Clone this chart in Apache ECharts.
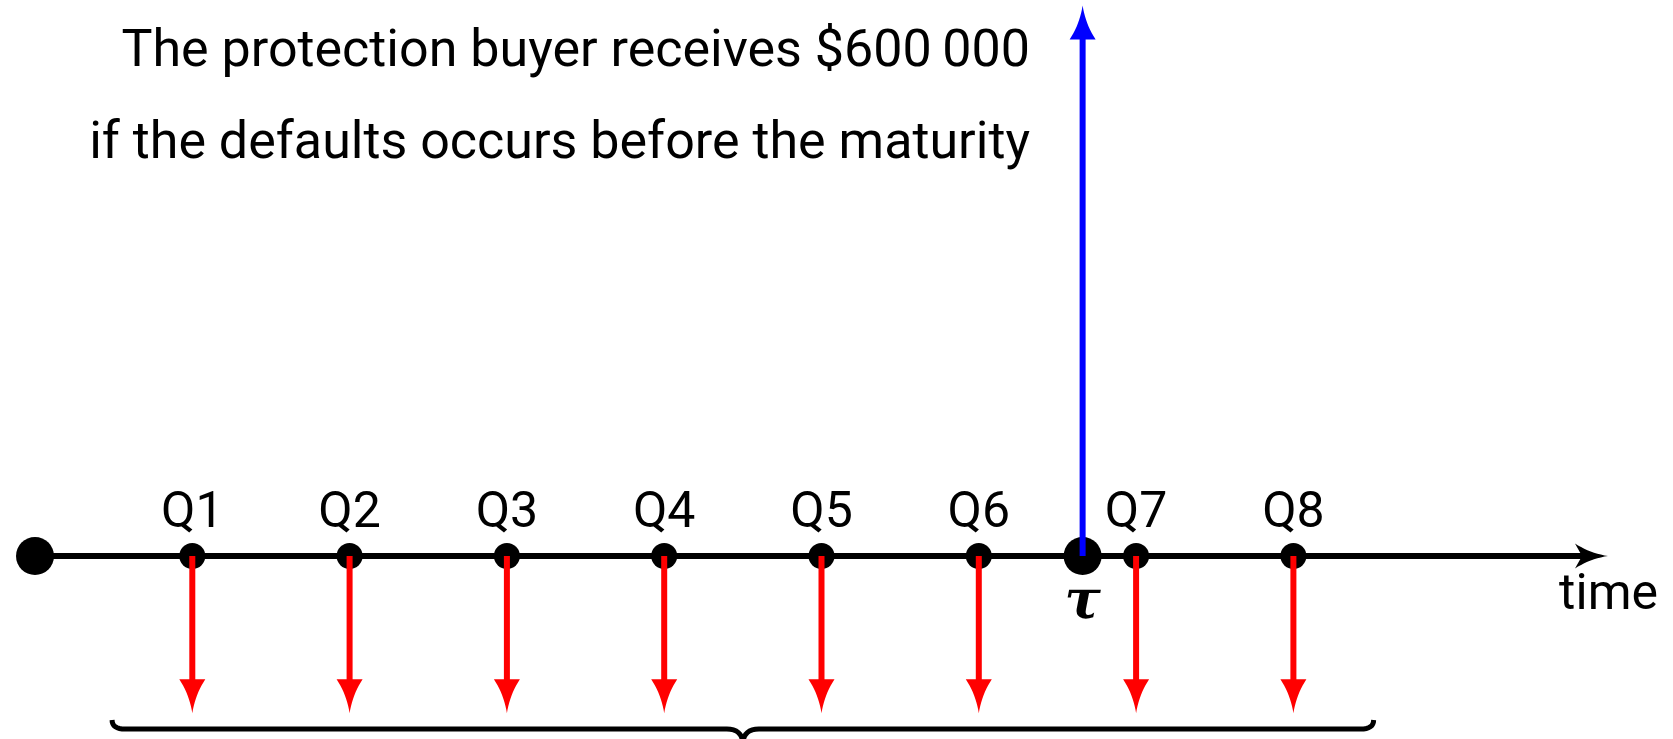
<!DOCTYPE html>
<html>
<head>
<meta charset="utf-8">
<script src="https://cdn.jsdelivr.net/npm/echarts@6/dist/echarts.min.js"></script>
<style>
  html, body { margin: 0; padding: 0; background: #fff; }
  #chart { width: 1673px; height: 739px; }
</style>
</head>
<body>
<div id="chart"></div>
<script>
// time axis: 0 = start, 1..8 = quarterly premium dates, tau = default time
const quarters = ['Q1', 'Q2', 'Q3', 'Q4', 'Q5', 'Q6', 'Q7', 'Q8'];
const payTimes = [1, 2, 3, 4, 5, 6, 7, 8];
const premiumFlows = [-1, -1, -1, -1, -1, -1, -1, -1];
const startTime = 0;
const defaultTime = 6.66;
const protectionFlow = 3.5;
const axisEnd = 10;
const braceSpan = [0.49, 8.51];
const braceLevel = -1.1;
const noteLines = [
  'The protection buyer receives $600\u2009000',
  'if the defaults occurs before the maturity'
];

const FONT = 'Roboto';

function quad(p0, c, p1, n) {
  const pts = [];
  for (let i = 0; i <= n; i++) {
    const t = i / n, u = 1 - t;
    pts.push([
      u * u * p0[0] + 2 * u * t * c[0] + t * t * p1[0],
      u * u * p0[1] + 2 * u * t * c[1] + t * t * p1[1]
    ]);
  }
  return pts;
}

// concave arrow head, tip at `tip`, pointing along unit vector `dir`
function arrowHead(tip, dir, len, half, notch) {
  const perp = [-dir[1], dir[0]];
  const base = [tip[0] - dir[0] * len, tip[1] - dir[1] * len];
  const cA = [base[0] + perp[0] * half, base[1] + perp[1] * half];
  const cB = [base[0] - perp[0] * half, base[1] - perp[1] * half];
  const k = 0.55, s = 0.22;
  const ctrlA = [tip[0] - dir[0] * len * k + perp[0] * half * s, tip[1] - dir[1] * len * k + perp[1] * half * s];
  const ctrlB = [tip[0] - dir[0] * len * k - perp[0] * half * s, tip[1] - dir[1] * len * k - perp[1] * half * s];
  let pts = quad(tip, ctrlA, cA, 10);
  if (notch) pts.push([base[0] + dir[0] * notch, base[1] + dir[1] * notch]);
  pts = pts.concat(quad(cB, ctrlB, tip, 10));
  return pts;
}

function arrow(p0, p1, color, width, len, half, notch) {
  const dx = p1[0] - p0[0], dy = p1[1] - p0[1];
  const d = Math.sqrt(dx * dx + dy * dy);
  const dir = [dx / d, dy / d];
  const end = [p1[0] - dir[0] * len * 0.6, p1[1] - dir[1] * len * 0.6];
  return {
    type: 'group',
    children: [
      { type: 'line', shape: { x1: p0[0], y1: p0[1], x2: end[0], y2: end[1] },
        style: { stroke: color, lineWidth: width } },
      { type: 'polygon', shape: { points: arrowHead(p1, dir, len, half, notch) },
        style: { fill: color } }
    ]
  };
}

const chart = echarts.init(document.getElementById('chart'));

const dotStyle = { color: '#000', opacity: 1 };

const option = {
  backgroundColor: '#fff',
  animation: false,
  grid: { left: 35, right: 65, top: 0, bottom: 0 },
  xAxis: { type: 'value', min: 0, max: 10, show: false },
  yAxis: { type: 'value', min: -1.1634, max: 3.5347, show: false },
  graphic: noteLines.map((s, i) => ({
    type: 'text',
    x: 1030,
    y: 53 + 92 * i,
    style: { text: s, align: 'right', verticalAlign: 'middle', fontSize: 52, fontFamily: FONT, fill: '#000' }
  })),
  series: [
    {
      // time axis
      type: 'custom',
      z: 1,
      data: [[startTime, axisEnd]],
      renderItem: function (params, api) {
        const a = api.coord([api.value(0), 0]);
        const b = api.coord([api.value(1), 0]);
        const g = arrow(a, b, '#000', 6, 33, 12.5, 7);
        g.children.push({
          type: 'text', x: b[0] + 50, y: b[1] + 41,
          style: { text: 'time', align: 'right', verticalAlign: 'middle', fontSize: 50, fontFamily: FONT, fill: '#000' }
        });
        return g;
      }
    },
    {
      type: 'scatter',
      z: 2,
      symbolSize: 38,
      itemStyle: dotStyle,
      data: [[startTime, 0]]
    },
    {
      type: 'scatter',
      z: 2,
      symbolSize: 26,
      itemStyle: dotStyle,
      label: {
        show: true, position: 'top', distance: 3, formatter: '{b}',
        fontSize: 50, fontFamily: FONT, color: '#000'
      },
      data: payTimes.map((t, i) => ({ name: quarters[i], value: [t, 0] }))
    },
    {
      type: 'scatter',
      z: 2,
      symbolSize: 38,
      itemStyle: dotStyle,
      label: {
        show: true, position: 'bottom', distance: 2, formatter: 'τ',
        fontSize: 54, fontStyle: 'italic', fontWeight: 'bold', fontFamily: 'DejaVu Serif', color: '#000'
      },
      data: [[defaultTime, 0]]
    },
    {
      // premium payments
      type: 'custom',
      z: 3,
      data: payTimes.map((t, i) => [t, premiumFlows[i]]),
      renderItem: function (params, api) {
        const a = api.coord([api.value(0), 0]);
        const b = api.coord([api.value(0), api.value(1)]);
        return arrow(a, b, '#ff0000', 6, 34, 13, 0);
      }
    },
    {
      // protection payment at default
      type: 'custom',
      z: 3,
      data: [[defaultTime, protectionFlow]],
      renderItem: function (params, api) {
        const a = api.coord([api.value(0), 0]);
        const b = api.coord([api.value(0), api.value(1)]);
        return arrow(a, b, '#0000ff', 6, 34, 13, 0);
      }
    },
    {
      // brace under premium leg
      type: 'custom',
      z: 1,
      data: [[braceSpan[0], braceSpan[1], braceLevel]],
      renderItem: function (params, api) {
        const a = api.coord([api.value(0), api.value(2)]);
        const b = api.coord([api.value(1), api.value(2)]);
        const y = a[1];
        const m = (a[0] + b[0]) / 2;
        let pts = quad([a[0], y - 9], [a[0], y], [a[0] + 13, y], 8);
        pts = pts.concat(quad([m - 16, y], [m - 1, y], [m, y + 14], 8));
        pts = pts.concat(quad([m, y + 14], [m + 1, y], [m + 16, y], 8));
        pts = pts.concat(quad([b[0] - 13, y], [b[0], y], [b[0], y - 9], 8));
        return {
          type: 'polyline',
          shape: { points: pts },
          style: { stroke: '#000', lineWidth: 5, fill: null }
        };
      }
    }
  ]
};

chart.setOption(option);
</script>
</body>
</html>
